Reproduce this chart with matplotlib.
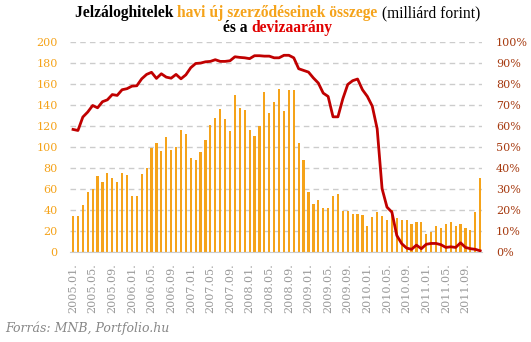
import numpy as np
from matplotlib import pyplot as plt

# monthly new mortgage contracts (billion HUF), 2005.01 - 2011.12
loans = [34, 34, 45, 57, 60, 72, 67, 75, 71, 67, 75, 73,
         53, 53, 74, 80, 99, 104, 96, 110, 97, 100, 116, 112,
         90, 88, 95, 107, 121, 128, 136, 127, 115, 150, 137, 135,
         116, 111, 120, 152, 132, 143, 155, 134, 154, 154, 104, 88,
         57, 46, 50, 42, 42, 53, 55, 39, 39, 36, 36, 35,
         25, 33, 38, 34, 31, 40, 32, 31, 31, 27, 29, 29,
         17, 19, 25, 23, 27, 29, 25, 27, 23, 21, 38, 71]

# share of FX loans (%)
fx_share = [58.4, 57.9, 64.3, 66.7, 69.8, 68.7, 71.6, 72.5, 75.0, 74.6, 77.3, 77.8,
            79.0, 79.2, 82.5, 84.6, 85.6, 82.7, 84.9, 83.3, 82.8, 84.6, 82.5, 84.4,
            87.8, 89.8, 90.0, 90.6, 90.8, 91.6, 90.8, 90.8, 91.1, 93.0, 92.7, 92.5,
            92.1, 93.5, 93.5, 93.3, 93.3, 92.5, 92.5, 93.7, 93.7, 92.5, 87.3, 86.5,
            85.7, 82.9, 80.5, 75.7, 74.1, 64.4, 64.4, 73.0, 79.8, 81.6, 82.4, 77.3,
            74.1, 69.5, 58.7, 30.2, 21.4, 19.0, 7.9, 4.0, 1.9, 1.3, 3.3, 1.6,
            3.7, 4.1, 4.1, 3.5, 2.2, 2.5, 2.2, 4.4, 2.2, 1.6, 1.3, 0.6]

months = []
for y in range(2005, 2012):
    for m in range(1, 13):
        months.append(f'{y}.{m:02d}.')

orange = '#F5A31A'
red = '#C00000'
dark = '#A63A10'

fig = plt.figure(figsize=(5.31, 3.42), dpi=100)
ax = fig.add_axes([0.132, 0.263, 0.776, 0.614])
x = np.arange(len(loans))
ax.bar(x, loans, width=0.45, color=orange, zorder=2)
ax.set_ylim(0, 200)
ax.set_yticks(range(0, 201, 20))
ax.set_xlim(-0.6, 83.4)
ax.set_xticks(x[::4])
ax.set_xticklabels(months[::4], rotation=90, fontsize=8, color='#999999', family='DejaVu Serif')
ax.tick_params(axis='x', length=0, pad=8)
ax.tick_params(axis='y', length=0, labelsize=8, labelcolor=orange, pad=9)
for lab in ax.get_yticklabels():
    lab.set_family('DejaVu Serif')
ax.yaxis.grid(True, linestyle=(0, (4, 3)), color='#CCCCCC', lw=1, zorder=0)
ax.set_axisbelow(True)
for s in ['top', 'right', 'left']:
    ax.spines[s].set_visible(False)
ax.spines['bottom'].set_color('#CCCCCC')

ax2 = ax.twinx()
ax2.plot(x, fx_share, color=red, lw=2, zorder=3)
ax2.set_ylim(0, 100)
ax2.set_yticks(range(0, 101, 10))
ax2.set_yticklabels([f'{v}%' for v in range(0, 101, 10)])
ax2.tick_params(axis='y', length=0, labelsize=8, labelcolor=dark, pad=10)
for lab in ax2.get_yticklabels():
    lab.set_family('DejaVu Serif')
for s in ['top', 'right', 'left', 'bottom']:
    ax2.spines[s].set_visible(False)

# two-colour title built from pieces
fig.canvas.draw()
r = fig.canvas.get_renderer()
def line(parts, ypos):
    texts = [fig.text(0, ypos, t, color=c, fontsize=11.2, family='Liberation Serif',
                      fontweight=w, va='baseline') for t, c, w in parts]
    widths = [t.get_window_extent(r).width for t in texts]
    x0 = (555 - sum(widths)) / 2
    for t, wd in zip(texts, widths):
        t.set_x(x0 / 531)
        x0 += wd

line([('Jelzáloghitelek ', 'black', 'bold'),
      ('havi új szerződéseinek összege ', orange, 'bold'),
      ('(milliárd forint)', 'black', 'normal')], 1 - 17 / 342)
line([('és a ', 'black', 'bold'), ('devizaarány', '#E00000', 'bold')], 1 - 32 / 342)

fig.text(5 / 531, 1 - 332 / 342, 'Forrás: MNB, Portfolio.hu', color='#888888',
         fontsize=9, style='italic', family='DejaVu Serif')

fig.savefig('out.png', dpi=100)
